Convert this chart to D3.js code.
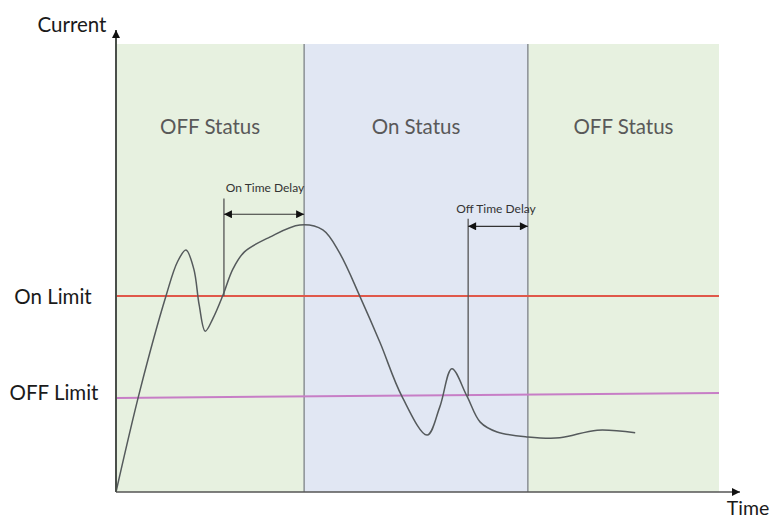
<!DOCTYPE html>
<html>
<head>
<meta charset="utf-8">
<script src="https://cdn.jsdelivr.net/npm/d3@7"></script>
<style>
  html, body { margin: 0; padding: 0; background: #fff; }
  svg { display: block; }
  text { font-family: Lato, "Open Sans", sans-serif; }
</style>
</head>
<body>
<svg id="chart" width="772" height="518"></svg>
<script>
// Status bands along the time axis
const bandNames  = ["OFF Status", "On Status", "OFF Status"];
const bandStarts = [0, 31.2, 68.3];
const bandEnds   = [31.2, 68.3, 100];
const bandFills  = ["#e7f1e0", "#e1e7f3", "#e7f1e0"];

// Current trace (time, current)
const traceTime = [0, 4.0, 8.3, 10.2, 11.6, 12.9, 13.8, 14.8, 16.1, 17.7, 19.4, 21.3, 25.5, 30.5,
                   34.3, 37.1, 40.5, 43.8, 47.4, 51.6, 53.7, 55.7, 58.2, 60.4, 63.2, 68.3, 73.6, 79.8, 86.1];
const traceCurrent = [0, 22.8, 43.8, 51.4, 54.0, 49.8, 41.7, 35.9, 38.8, 43.8, 49.8, 53.6, 56.9, 59.6,
                      58.5, 53.3, 43.5, 33.3, 21.4, 12.7, 19.0, 27.5, 21.4, 15.6, 13.4, 12.3, 12.1, 13.8, 13.2];

// Threshold lines: [current at start, current at end]
const limitNames  = ["On Limit", "OFF Limit"];
const limitStart  = [43.75, 21.0];
const limitEnd    = [43.75, 22.1];
const limitColors = ["#e0584a", "#c77ec6"];

// Delay markers: where the limit is crossed, and where the band changes
const delayNames = ["On Time Delay", "Off Time Delay"];
const delayFrom  = [17.9, 58.4];
const delayTo    = [31.2, 68.3];
const delayLevel = [62.0, 59.3];   // height of the double arrow
const delayTop   = [65.5, 61.0];   // top of the vertical marker

const svg = d3.select("#chart");
const x = d3.scaleLinear().domain([0, 100]).range([116, 719]);
const y = d3.scaleLinear().domain([0, 100]).range([492, 44]);

// Arrowheads
const defs = svg.append("defs");
function marker(id, color, w, h, orient) {
  defs.append("marker").attr("id", id)
    .attr("viewBox", "0 0 10 10").attr("refX", 10).attr("refY", 5)
    .attr("markerWidth", w).attr("markerHeight", h)
    .attr("markerUnits", "userSpaceOnUse").attr("orient", orient)
    .append("path").attr("d", "M0,0L10,5L0,10Z").attr("fill", color);
}
marker("axisHead", "#111", 9, 8, "auto");
marker("delayHead", "#111", 9, 8, "auto-start-reverse");

// Bands
svg.append("g").selectAll("rect").data(bandNames).join("rect")
  .attr("x", (d, i) => x(bandStarts[i]))
  .attr("y", y(100))
  .attr("width", (d, i) => x(bandEnds[i]) - x(bandStarts[i]))
  .attr("height", y(0) - y(100))
  .attr("fill", (d, i) => bandFills[i]);

// Band separators
svg.append("g").selectAll("line").data(bandStarts.slice(1)).join("line")
  .attr("x1", d => x(d)).attr("x2", d => x(d))
  .attr("y1", y(100)).attr("y2", y(0))
  .attr("stroke", "#8a8f94").attr("stroke-width", 1.5);

// Band titles
svg.append("g").selectAll("text").data(bandNames).join("text")
  .attr("x", (d, i) => (x(bandStarts[i]) + x(bandEnds[i])) / 2)
  .attr("y", 134)
  .attr("text-anchor", "middle")
  .attr("font-size", 20.5)
  .attr("fill", "#595959")
  .text(d => d);

// Limit lines
svg.append("g").selectAll("line").data(limitNames).join("line")
  .attr("x1", x(0)).attr("x2", x(100))
  .attr("y1", (d, i) => y(limitStart[i]))
  .attr("y2", (d, i) => y(limitEnd[i]))
  .attr("stroke", (d, i) => limitColors[i])
  .attr("stroke-width", 2);

// Limit labels
svg.append("g").selectAll("text").data(limitNames).join("text")
  .attr("x", (d, i) => i === 0 ? 53 : 54)
  .attr("y", (d, i) => y(limitStart[i]) + (i === 0 ? 8 : 2))
  .attr("text-anchor", "middle")
  .attr("font-size", 20.5)
  .attr("fill", "#1a1a1a")
  .text(d => d);

// Delay markers
const delays = svg.append("g");
delayNames.forEach((name, i) => {
  delays.append("line")
    .attr("x1", x(delayFrom[i])).attr("x2", x(delayFrom[i]))
    .attr("y1", y(delayTop[i])).attr("y2", y(i === 0 ? limitStart[0] : 21.4))
    .attr("stroke", "#555").attr("stroke-width", 1.3);
  delays.append("line")
    .attr("x1", x(delayFrom[i])).attr("x2", x(delayTo[i]))
    .attr("y1", y(delayLevel[i])).attr("y2", y(delayLevel[i]))
    .attr("stroke", "#333").attr("stroke-width", 1.2)
    .attr("marker-start", "url(#delayHead)")
    .attr("marker-end", "url(#delayHead)");
  delays.append("text")
    .attr("x", (x(delayFrom[i]) + x(delayTo[i])) / 2 + (i === 0 ? 1 : -2))
    .attr("y", y(delayLevel[i]) - 22 + (i === 0 ? 0 : 9))
    .attr("text-anchor", "middle")
    .attr("font-size", 12)
    .attr("fill", "#333")
    .text(name);
});

// Current trace
const line = d3.line()
  .x((d, i) => x(traceTime[i]))
  .y((d, i) => y(traceCurrent[i]))
  .curve(d3.curveCatmullRom.alpha(0.5));
svg.append("path")
  .datum(traceTime)
  .attr("d", line)
  .attr("fill", "none")
  .attr("stroke", "#555a5c")
  .attr("stroke-width", 1.5);

// Axes (no ticks, arrow ends)
const xAxis = svg.append("g").attr("transform", `translate(0,${y(0)})`)
  .call(d3.axisBottom(x).tickValues([]).tickSizeOuter(0));
xAxis.select(".domain").attr("stroke", "#555").attr("stroke-width", 1.5)
  .attr("d", `M${x(0)},0H${x(100) + 21}`)
  .attr("marker-end", "url(#axisHead)");

const yAxis = svg.append("g").attr("transform", `translate(${x(0)},0)`)
  .call(d3.axisLeft(y).tickValues([]).tickSizeOuter(0));
yAxis.select(".domain").attr("stroke", "#4a4f4a").attr("stroke-width", 2)
  .attr("d", `M0,${y(0)}V${y(100) - 14}`)
  .attr("marker-end", "url(#axisHead)");

// Axis titles
svg.append("text").attr("x", 72).attr("y", 32)
  .attr("text-anchor", "middle").attr("font-size", 20.5).attr("fill", "#1a1a1a")
  .text("Current");
svg.append("text").attr("x", 748).attr("y", 515)
  .attr("text-anchor", "middle").attr("font-size", 19.5).attr("fill", "#1a1a1a")
  .text("Time");
</script>
</body>
</html>
